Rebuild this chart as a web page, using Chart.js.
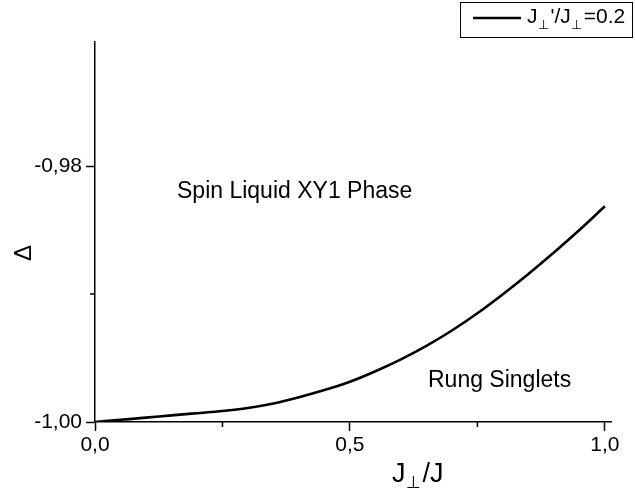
<!DOCTYPE html>
<html>
<head>
<meta charset="utf-8">
<script src="https://cdn.jsdelivr.net/npm/chart.js@4"></script>
<style>
  body { margin: 0; background: #fff; }
  #chart { display: block; }
</style>
</head>
<body>
<canvas id="chart" width="635" height="490"></canvas>
<script>
// J_perp/J values and the gap Delta
const xValues = [0, 0.05, 0.10, 0.15, 0.20, 0.25, 0.30, 0.35, 0.40, 0.45, 0.50,
                 0.55, 0.60, 0.65, 0.70, 0.75, 0.80, 0.85, 0.90, 0.95, 1.00];
const deltaValues = [-1.00000, -0.99983, -0.99966, -0.99948, -0.99931, -0.99914, -0.99890,
                     -0.99855, -0.99806, -0.99750, -0.99685, -0.99603, -0.99510, -0.99405,
                     -0.99285, -0.99150, -0.99001, -0.98843, -0.98676, -0.98500, -0.98314];

const xMajor = [0, 0.5, 1.0];
const xTickLabels = ['0,0', '0,5', '1,0'];
const xMinor = [0.25, 0.75];
const yMajor = [-1.00, -0.98];
const yTickLabels = ['-1,00', '-0,98'];
const yMinor = [-0.99];

const FONT = '"Liberation Sans", Arial, sans-serif';
const near = (a, b) => Math.abs(a - b) < 1e-6;

function labelFor(value, majors, labels) {
    const i = majors.findIndex(m => near(m, value));
    return i >= 0 ? labels[i] : '';
}

function tickList(majors, minors) {
    return majors.concat(minors).sort((a, b) => a - b).map(v => ({ value: v }));
}

// draws text with a small subscript perp sign
function drawPerpText(ctx, parts, x, y, size, subSize, subDrop) {
    parts.forEach(p => {
        ctx.font = (p.sub ? subSize : size) + 'px ' + FONT;
        ctx.fillText(p.t, x, y + (p.sub ? subDrop : 0));
        x += ctx.measureText(p.t).width + (p.sub ? 2 : 0);
    });
    return x;
}

const decorations = {
    id: 'decorations',
    afterDraw(chart) {
        const { ctx, scales } = chart;
        const xs = scales.x, ys = scales.y;
        ctx.save();
        ctx.strokeStyle = '#000';
        ctx.lineWidth = 1.5;

        // minor ticks (shorter)
        ctx.beginPath();
        xMinor.forEach(v => {
            const px = xs.getPixelForValue(v);
            ctx.moveTo(px, ys.bottom);
            ctx.lineTo(px, ys.bottom + 5);
        });
        yMinor.forEach(v => {
            const py = ys.getPixelForValue(v);
            ctx.moveTo(xs.left, py);
            ctx.lineTo(xs.left - 5, py);
        });
        ctx.stroke();

        ctx.fillStyle = '#000';
        ctx.textBaseline = 'alphabetic';
        ctx.textAlign = 'left';

        // phase labels
        ctx.font = '23px ' + FONT;
        ctx.fillText('Spin Liquid XY1 Phase', 177, 198);
        ctx.fillText('Rung Singlets', 428, 387);

        // axis titles
        drawPerpText(ctx, [{ t: 'J' }, { t: '\u22A5', sub: true }, { t: '/J' }], 392, 482, 27, 17, 6);

        ctx.save();
        ctx.translate(31, 253);
        ctx.rotate(-Math.PI / 2);
        ctx.textAlign = 'center';
        ctx.font = '24px ' + FONT;
        ctx.fillText('\u0394', 0, 0);
        ctx.restore();

        // legend
        ctx.lineWidth = 1;
        ctx.strokeRect(460.5, 2.5, 172, 35);
        ctx.lineWidth = 2.5;
        ctx.beginPath();
        ctx.moveTo(473, 18);
        ctx.lineTo(521, 18);
        ctx.stroke();
        drawPerpText(ctx, [{ t: 'J' }, { t: '\u22A5', sub: true }, { t: '\'/J' },
                           { t: '\u22A5', sub: true }, { t: '=0.2' }], 527, 23, 21, 13, 6);
        ctx.restore();
    }
};

new Chart(document.getElementById('chart'), {
    type: 'line',
    data: {
        datasets: [{
            label: "J\u22A5'/J\u22A5=0.2",
            data: xValues.map((x, i) => ({ x: x, y: deltaValues[i] })),
            borderColor: '#000',
            borderWidth: 2.6,
            pointRadius: 0,
            fill: false,
            cubicInterpolationMode: 'monotone'
        }]
    },
    options: {
        responsive: false,
        animation: false,
        layout: { padding: { top: 42, right: 24, left: 0, bottom: 0 } },
        plugins: { legend: { display: false }, tooltip: { enabled: false } },
        scales: {
            x: {
                type: 'linear',
                min: 0,
                max: 1.012,
                afterBuildTicks: s => { s.ticks = tickList(xMajor, xMinor); },
                afterFit: s => { s.height = 68; },
                border: { display: true, color: '#000', width: 1.5 },
                grid: {
                    drawOnChartArea: false,
                    tickLength: 9,
                    tickWidth: 1.5,
                    tickColor: c => xMajor.some(m => near(m, c.tick.value)) ? '#000' : 'rgba(0,0,0,0)'
                },
                ticks: {
                    color: '#000',
                    padding: 2,
                    maxRotation: 0,
                    autoSkip: false,
                    font: { family: FONT, size: 21 },
                    callback: v => labelFor(v, xMajor, xTickLabels)
                }
            },
            y: {
                type: 'linear',
                min: -1.0,
                max: -0.9703,
                afterBuildTicks: s => { s.ticks = tickList(yMajor, yMinor); },
                afterFit: s => { s.width = 95; },
                border: { display: true, color: '#000', width: 1.5 },
                grid: {
                    drawOnChartArea: false,
                    tickLength: 9,
                    tickWidth: 1.5,
                    tickColor: c => yMajor.some(m => near(m, c.tick.value)) ? '#000' : 'rgba(0,0,0,0)'
                },
                ticks: {
                    color: '#000',
                    padding: 4,
                    autoSkip: false,
                    font: { family: FONT, size: 21 },
                    callback: v => labelFor(v, yMajor, yTickLabels)
                }
            }
        }
    },
    plugins: [decorations]
});
</script>
</body>
</html>
